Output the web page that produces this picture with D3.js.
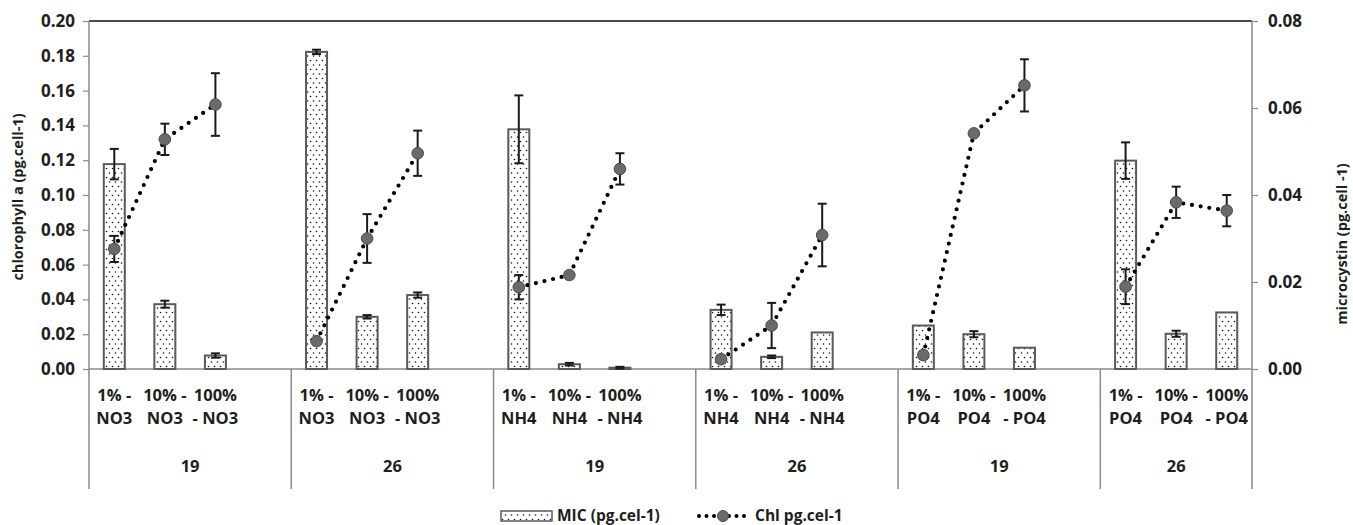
<!DOCTYPE html>
<html>
<head>
<meta charset="utf-8">
<script src="https://cdn.jsdelivr.net/npm/d3@7"></script>
<style>
  html, body { margin: 0; padding: 0; background: #fff; }
  svg { display: block; font-family: "Open Sans", Lato, sans-serif; font-weight: 700; }
</style>
</head>
<body>
<svg id="chart" width="1353" height="525"></svg>
<script>
// Outer grouping (day) and nutrient per group
const groups = ["19", "26", "19", "26", "19", "26"];
const nutrients = ["NO3", "NO3", "NH4", "NH4", "PO4", "PO4"];
const levels = ["1%", "10%", "100%"];

// Microcystin per cell (bars, right axis) and its error
const mic = [0.0471, 0.0149, 0.0031, 0.0729, 0.0120, 0.0170, 0.0551, 0.0011, 0.0003,
             0.0136, 0.0028, 0.0084, 0.0100, 0.0080, 0.0049, 0.0479, 0.0081, 0.0130];
const micErr = [0.0035, 0.0008, 0.0005, 0.0005, 0.0004, 0.0006, 0.0078, 0.0003, 0.0002,
                0.0012, 0.0003, 0, 0, 0.0007, 0, 0.0042, 0.0007, 0];

// Chlorophyll a per cell (dotted line, left axis) and its error
const chl = [0.069, 0.132, 0.152, 0.016, 0.075, 0.124, 0.047, 0.054, 0.115,
             0.0056, 0.025, 0.077, 0.008, 0.1354, 0.163, 0.0473, 0.0958, 0.091];
const chlErr = [0.0075, 0.009, 0.018, 0.001, 0.014, 0.013, 0.007, 0.0008, 0.009,
                0.002, 0.013, 0.018, 0.002, 0.001, 0.015, 0.010, 0.009, 0.009];

const leftTicks = [0, 0.02, 0.04, 0.06, 0.08, 0.10, 0.12, 0.14, 0.16, 0.18, 0.20];
const rightTicks = [0, 0.02, 0.04, 0.06, 0.08];

// Build the category slots: three treatments per group, with an empty slot between groups
const slots = [];
groups.forEach((g, gi) => {
  levels.forEach((lv, li) => {
    const i = gi * 3 + li;
    slots.push({ key: `c${i}`, group: gi, level: li, nutrient: nutrients[gi],
                 mic: mic[i], micErr: micErr[i], chl: chl[i], chlErr: chlErr[i] });
  });
  if (gi < groups.length - 1) slots.push({ key: `gap${gi}`, group: gi, gap: true });
});
const cats = slots.filter(d => !d.gap);

const svg = d3.select("#chart");
const plotL = 89, plotR = 1252, plotT = 21, plotB = 369, catBottom = 489;

const x = d3.scaleBand().domain(slots.map(d => d.key)).range([plotL, plotR]).padding(0);
const yL = d3.scaleLinear().domain([0, 0.20]).range([plotB, plotT]);
const yR = d3.scaleLinear().domain([0, 0.08]).range([plotB, plotT]);
const cx = d => x(d.key) + x.bandwidth() / 2;

const axisColor = "#8a8a8a";
const textColor = "#1e1e1e";
const fontFamily = "'Open Sans', Lato, sans-serif";

// Dotted fill for the bars
const defs = svg.append("defs");
const pat = defs.append("pattern").attr("id", "dots")
  .attr("patternUnits", "userSpaceOnUse").attr("width", 6).attr("height", 9);
pat.append("rect").attr("width", 6).attr("height", 9).attr("fill", "#fff");
pat.append("circle").attr("cx", 1.5).attr("cy", 2).attr("r", 0.8).attr("fill", "#111");
pat.append("circle").attr("cx", 4.5).attr("cy", 6.5).attr("r", 0.8).attr("fill", "#111");

// Top border of the plot area
svg.append("line").attr("x1", plotL).attr("x2", plotR).attr("y1", plotT).attr("y2", plotT)
  .attr("stroke", "#4a4a4a").attr("stroke-width", 1.8);

// Left axis
const gL = svg.append("g").attr("transform", `translate(${plotL},0)`)
  .call(d3.axisLeft(yL).tickValues(leftTicks).tickFormat(d3.format(".2f")).tickSize(6).tickSizeOuter(0));
gL.select(".domain").remove();
gL.selectAll(".tick line").attr("stroke", axisColor).attr("stroke-width", 1.2);
gL.selectAll(".tick text").attr("x", -14).attr("fill", textColor)
  .style("font-size", "17px").style("font-family", fontFamily).style("font-weight", "700");

// Right axis
const gR = svg.append("g").attr("transform", `translate(${plotR},0)`)
  .call(d3.axisRight(yR).tickValues(rightTicks).tickFormat(d3.format(".2f")).tickSize(6).tickSizeOuter(0));
gR.select(".domain").remove();
gR.selectAll(".tick line").attr("stroke", axisColor).attr("stroke-width", 1.2);
gR.selectAll(".tick text").attr("x", 16).attr("fill", textColor)
  .style("font-size", "17px").style("font-family", fontFamily).style("font-weight", "700");

// Axis lines (vertical ones run down through the category labels)
svg.append("line").attr("x1", plotL).attr("x2", plotL).attr("y1", plotT).attr("y2", catBottom)
  .attr("stroke", axisColor).attr("stroke-width", 1.5);
svg.append("line").attr("x1", plotR).attr("x2", plotR).attr("y1", plotT).attr("y2", catBottom)
  .attr("stroke", axisColor).attr("stroke-width", 1.5);
svg.append("line").attr("x1", plotL).attr("x2", plotR).attr("y1", plotB).attr("y2", plotB)
  .attr("stroke", axisColor).attr("stroke-width", 1.5);

// Group separators
const gapSlots = slots.filter(d => d.gap);
svg.selectAll(".sep").data(gapSlots).join("line").attr("class", "sep")
  .attr("x1", d => x(d.key) + x.bandwidth()).attr("x2", d => x(d.key) + x.bandwidth())
  .attr("y1", plotB).attr("y2", catBottom)
  .attr("stroke", axisColor).attr("stroke-width", 1.5);

// Category labels, two lines each
const line1 = ["1% -", "10% -", "100%"];
const line2 = n => [n, n, "- " + n];
const catText = svg.selectAll(".cat").data(cats).join("text").attr("class", "cat")
  .attr("text-anchor", "middle").attr("fill", textColor).style("font-size", "16.5px");
catText.append("tspan").attr("x", cx).attr("y", 401).text(d => line1[d.level]);
catText.append("tspan").attr("x", cx).attr("y", 424).text(d => line2(d.nutrient)[d.level]);

// Group labels centred under each group
svg.selectAll(".grp").data(groups).join("text").attr("class", "grp")
  .attr("x", (g, gi) => {
    const x0 = gi === 0 ? plotL : x(`gap${gi - 1}`) + x.bandwidth();
    const x1 = gi === groups.length - 1 ? plotR : x(`gap${gi}`) + x.bandwidth();
    return (x0 + x1) / 2;
  })
  .attr("y", 472).attr("text-anchor", "middle").attr("fill", textColor)
  .style("font-size", "16.5px").text(g => g);

// Bars (microcystin)
const barW = 21;
svg.selectAll(".bar").data(cats).join("rect").attr("class", "bar")
  .attr("x", d => cx(d) - barW / 2).attr("width", barW)
  .attr("y", d => yR(d.mic)).attr("height", d => plotB - yR(d.mic))
  .attr("fill", "url(#dots)").attr("stroke", "#5a5a5a").attr("stroke-width", 2);

// Error bars helper
function errorBars(cls, data, yScale, val, err, cap) {
  const g = svg.selectAll("." + cls).data(data.filter(d => err(d) > 0)).join("g").attr("class", cls)
    .attr("stroke", "#1a1a1a").attr("stroke-width", 2);
  g.append("line").attr("x1", cx).attr("x2", cx)
    .attr("y1", d => yScale(val(d) + err(d))).attr("y2", d => yScale(val(d) - err(d)));
  g.append("line").attr("x1", d => cx(d) - cap).attr("x2", d => cx(d) + cap)
    .attr("y1", d => yScale(val(d) + err(d))).attr("y2", d => yScale(val(d) + err(d)));
  g.append("line").attr("x1", d => cx(d) - cap).attr("x2", d => cx(d) + cap)
    .attr("y1", d => yScale(val(d) - err(d))).attr("y2", d => yScale(val(d) - err(d)));
}
errorBars("micErr", cats, yR, d => d.mic, d => d.micErr, 4.5);

// Chlorophyll line, broken between groups
const line = d3.line().defined(d => !d.gap).x(cx).y(d => yL(d.chl));
svg.append("path").datum(slots).attr("d", line)
  .attr("fill", "none").attr("stroke", "#000").attr("stroke-width", 4.2)
  .attr("stroke-linecap", "round").attr("stroke-dasharray", "0 8.8");

errorBars("chlErr", cats, yL, d => d.chl, d => d.chlErr, 4.5);

svg.selectAll(".pt").data(cats).join("circle").attr("class", "pt")
  .attr("cx", cx).attr("cy", d => yL(d.chl)).attr("r", 5.8)
  .attr("fill", "#6a6a6a").attr("stroke", "#4a4a4a").attr("stroke-width", 1);

// Axis titles
svg.append("text").attr("transform", `translate(23,${(plotT + plotB) / 2 + 2}) rotate(-90)`)
  .attr("text-anchor", "middle").attr("fill", textColor).style("font-size", "14.5px")
  .text("chlorophyll a (pg.cell-1)");
svg.append("text").attr("transform", `translate(1347,244) rotate(-90)`)
  .attr("text-anchor", "middle").attr("fill", textColor).style("font-size", "14.5px")
  .text("microcystin (pg.cell -1)");

// Legend
const lg = svg.append("g");
lg.append("rect").attr("x", 501).attr("y", 511).attr("width", 51).attr("height", 10)
  .attr("fill", "url(#dots)").attr("stroke", "#5a5a5a").attr("stroke-width", 1.5);
lg.append("text").attr("x", 557).attr("y", 520.5).attr("fill", textColor).style("font-size", "15.5px")
  .text("MIC (pg.cel-1)");
lg.append("line").attr("x1", 699).attr("x2", 749).attr("y1", 516).attr("y2", 516)
  .attr("stroke", "#000").attr("stroke-width", 4).attr("stroke-linecap", "round")
  .attr("stroke-dasharray", "0 7.5");
lg.append("circle").attr("cx", 723).attr("cy", 516).attr("r", 5.5)
  .attr("fill", "#6a6a6a").attr("stroke", "#4a4a4a");
lg.append("text").attr("x", 755).attr("y", 520.5).attr("fill", textColor).style("font-size", "15.5px")
  .text("Chl pg.cel-1");
</script>
</body>
</html>
